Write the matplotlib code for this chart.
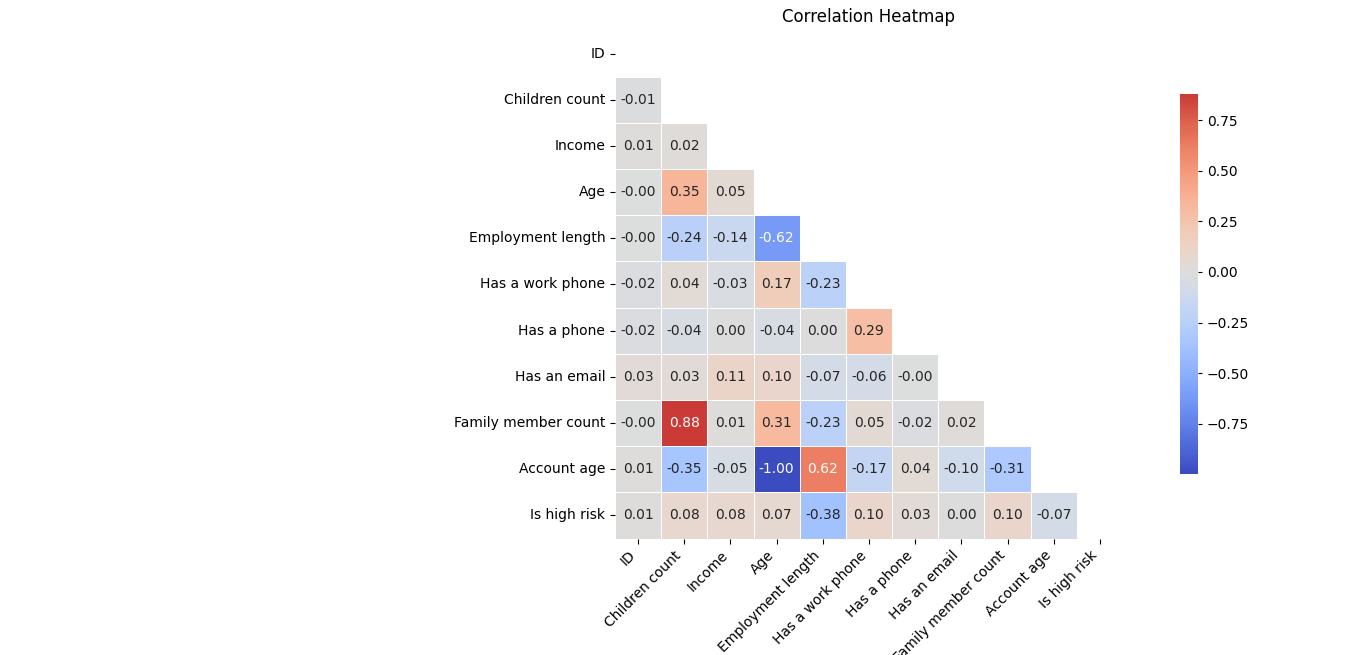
import numpy as np
import matplotlib
matplotlib.use("Agg")
import matplotlib.pyplot as plt
import seaborn as sns

labels = ["ID", "Children count", "Income", "Age", "Employment length",
          "Has a work phone", "Has a phone", "Has an email",
          "Family member count", "Account age", "Is high risk"]

# lower triangle rows (-0.001 shows as -0.00)
lower = [
    [],
    [-0.01],
    [0.01, 0.02],
    [-0.001, 0.35, 0.05],
    [-0.001, -0.24, -0.14, -0.62],
    [-0.02, 0.04, -0.03, 0.17, -0.23],
    [-0.02, -0.04, 0.00, -0.04, 0.00, 0.29],
    [0.03, 0.03, 0.11, 0.10, -0.07, -0.06, -0.001],
    [-0.001, 0.88, 0.01, 0.31, -0.23, 0.05, -0.02, 0.02],
    [0.01, -0.35, -0.05, -0.999, 0.62, -0.17, 0.04, -0.10, -0.31],
    [0.01, 0.08, 0.08, 0.07, -0.38, 0.10, 0.03, 0.00, 0.10, -0.07],
]

n = len(labels)
corr = np.eye(n)
for i, row in enumerate(lower):
    for j, v in enumerate(row):
        corr[i, j] = v
        corr[j, i] = v
mask = np.triu(np.ones_like(corr, dtype=bool))

fig = plt.figure(figsize=(13.66, 6.55), dpi=100)
W, H = 1366, 655
ax = fig.add_axes([615 / W, (H - 539) / H, 508 / W, 509 / H])
cax = fig.add_axes([1180 / W, (H - 474) / H, 18 / W, 380 / H])

sns.heatmap(corr, mask=mask, cmap="coolwarm", center=0, annot=True, fmt=".2f",
            linewidths=0.5, linecolor="white", square=True,
            xticklabels=labels, yticklabels=labels, ax=ax, cbar_ax=cax)
cax.tick_params(length=3)
plt.setp(ax.get_xticklabels(), rotation=45, ha="right")
ax.set_title("Correlation Heatmap")

plt.savefig("out.png", dpi=100)
